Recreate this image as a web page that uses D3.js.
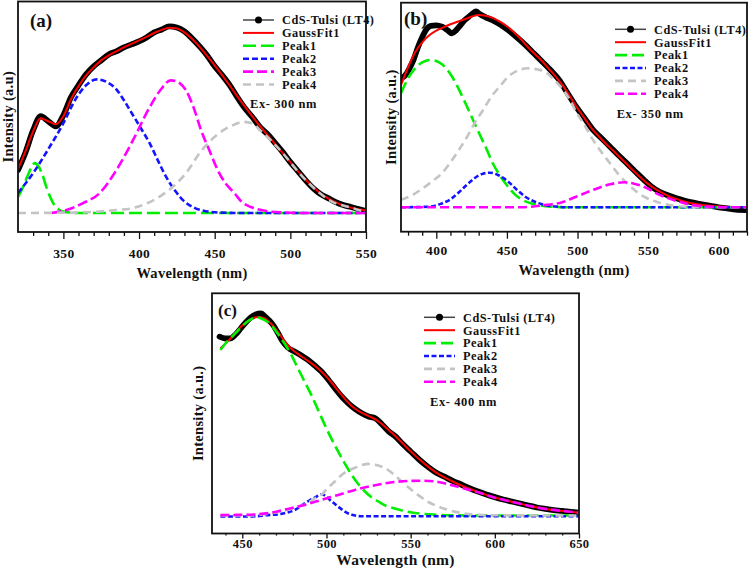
<!DOCTYPE html>
<html>
<head>
<meta charset="utf-8">
<script src="https://cdn.jsdelivr.net/npm/d3@7"></script>
<style>
body{margin:0;background:#fff;}
svg{display:block;}
text{font-family:"Liberation Serif","Times New Roman",serif;font-weight:bold;fill:#111;}
</style>
</head>
<body>
<svg id="chart" width="750" height="578"></svg>
<script>
// 凡例
var legendNames = ["CdS-Tulsi (LT4)", "GaussFit1", "Peak1", "Peak2", "Peak3", "Peak4"];
var yLabels = ["Intensity (a.u)", "Intensity (a.u.)", "Intensity (a.u.)"];
var exLabels = ["Ex- 300 nm", "Ex- 350 nm", "Ex- 400 nm"];
var panelNames = ["(a)", "(b)", "(c)"];
var ticksA = [350, 400, 450, 500, 550];
var ticksB = [400, 450, 500, 550, 600];
var ticksC = [450, 500, 550, 600, 650];

// (a) Ex 300 nm  [波長, 強度]
var a_data = [[320,21.5],[325,30.5],[330,41.5],[335,48.5],[340,46],[345,43.5],[350,49],[355,58],[360,64],[365,69.5],[370,73.5],[375,76.5],[380,79.5],[385,81],[390,83],[395,84.5],[400,86],[405,88],[410,90.5],[415,92],[420,93.5],[425,93],[430,91],[435,87.5],[440,83.5],[445,79],[450,73.5],[455,69],[460,64],[465,58],[470,52.5],[475,48],[480,43],[485,39.5],[490,35],[495,30.5],[500,25.5],[505,21],[510,16.5],[515,12.5],[520,9.5],[525,7.5],[530,5.5],[535,4],[540,3],[545,2],[550,1]];
var a_fit = [[320,22],[325,31],[330,41],[335,47.5],[340,46],[345,44.5],[350,48.5],[355,57],[360,63.5],[365,69],[370,73],[375,76.5],[380,79],[385,81],[390,83],[395,84.8],[400,86.5],[405,88.3],[410,90.2],[415,91.8],[420,92.8],[425,92.5],[430,90.5],[435,87.3],[440,83.3],[445,78.8],[450,74],[455,69],[460,63.8],[465,58.5],[470,53.3],[475,48.3],[480,43.5],[485,39],[490,34.5],[495,30],[500,25.5],[505,21],[510,16.8],[515,13],[520,9.8],[525,7.3],[530,5.3],[535,3.8],[540,2.7],[545,1.9],[550,1.3]];
var a_peak1 = [[320,8],[323,12.5],[326,18],[329,23],[331,25],[333,24],[336,19.5],[339,12.5],[341,8.5],[344,4],[347,1.8],[350,0.8],[355,0.2],[360,0],[450,0],[550,0]];
var a_peak2 = [[320,10],[330,20],[340,32],[350,45],[358,57],[365,64],[372,67],[379,65.5],[385,62],[390,56.5],[396,49],[402,41.5],[407,35],[413,25.5],[418,18],[424,11],[429,6.5],[437,2.5],[445,0.8],[455,0.2],[470,0],[550,0]];
var a_peak3 = [[342,0],[352,1.5],[363,5],[374,10],[385,21.5],[396,36.5],[407,53],[414,61.5],[421,66.5],[427,65],[431,61.5],[436,53],[441,41.5],[447,30.5],[452,21.5],[457,15],[463,10],[468,5.5],[474,3],[484,1],[495,0.3],[510,0],[550,0]];
var a_peak4 = [[320,0],[360,0.3],[374,0.8],[385,1.5],[396,2.5],[407,5.5],[418,10.5],[425,15],[431,20],[441,31],[452,39.5],[462,44],[469,45.7],[475,45],[480,41.5],[487,36.5],[495,30],[506,20],[517,11.5],[528,5.5],[539,3],[548,1],[550,0.8]];

// (b) Ex 350 nm
var b_data = [[375,64.5],[378,66],[381,69.5],[384,74],[387,80],[390,85],[393,89],[396,90.7],[400,91],[404,90.3],[408,88.5],[411,87],[414,88.5],[417,91],[420,93.5],[423,95.3],[426,97],[428,98],[431,96.5],[435,95],[440,93.5],[445,91.5],[451,88.5],[457,85],[463,81.2],[469,77],[475,72.8],[481,68.5],[487,63.7],[493,57],[499,50.3],[505,44.5],[511,38.7],[517,34.5],[523,30.3],[529,26],[535,22],[541,17.8],[547,13.7],[552,10.5],[558,7.8],[564,6],[570,4.5],[576,3.3],[582,2.3],[588,1.5],[594,0.7],[600,0],[606,-0.5],[612,-1.2],[620,-1.4]];
var b_fit = [[375,61],[380,70],[385,77.5],[390,82.5],[395,86],[400,88.3],[405,90],[410,91.5],[415,92.8],[420,94],[425,95.3],[430,96.2],[435,95.8],[440,94.7],[445,92.8],[450,90.5],[455,87.5],[460,84],[465,80],[470,76.5],[475,73],[480,69],[485,65],[490,60.5],[495,55],[500,49.5],[505,44.5],[510,39.5],[515,35.5],[520,31.8],[525,28.5],[530,25],[535,21.5],[540,18],[545,14.7],[550,11.7],[555,9.2],[560,7.2],[565,5.5],[570,4.2],[575,3.1],[580,2.2],[590,1],[600,0.4],[610,0.1],[620,0]];
var b_peak1 = [[375,57],[380,64.5],[385,69.5],[390,72.5],[396,73.7],[402,72.5],[406,70.3],[411,65.5],[416,59],[420,53],[425,45.3],[430,37.5],[435,30],[440,22],[444,17],[450,11],[456,6.2],[462,3.3],[468,1.8],[475,0.8],[480,0.4],[490,0],[620,0]];
var b_peak2 = [[375,0],[395,0.3],[403,1.7],[410,4],[416,7.5],[422,11.5],[427,14.5],[433,16.8],[438,17.3],[444,16],[451,12.8],[457,8.8],[463,5.3],[469,3],[475,1.5],[486,0.3],[495,0],[620,0]];
var b_peak3 = [[375,3.7],[384,6.5],[392,10.3],[398,13.5],[404,17],[410,22.5],[416,28.7],[422,35.5],[427,42],[433,48.5],[439,55.3],[445,60.5],[451,65.3],[458,68.5],[465,69.5],[471,69],[477,67.8],[483,64],[488,60.3],[494,54.5],[499,47.8],[505,41],[511,33.7],[517,27.5],[523,22],[529,16.5],[535,12],[541,8.3],[547,5.3],[553,3.5],[558,2.3],[564,1.3],[570,0.6],[580,0.2],[600,0],[620,0]];
var b_peak4 = [[375,0],[460,0],[470,0.5],[478,1.2],[488,2.3],[499,5.3],[511,8.7],[523,11.5],[533,12.5],[540,11.8],[547,10.3],[558,6.2],[570,3.2],[582,1],[594,0.3],[605,0],[620,0]];

// (c) Ex 400 nm
var c_data = [[436.5,89.4],[440,88.5],[443,88.6],[446,90.5],[449,93.5],[452,96.5],[455,99],[458,100.5],[461,101],[464,99],[467.5,96.1],[471,91.5],[474,87],[477,84],[481,82],[485,80],[489,77.8],[493,75],[497,72],[501,68],[505,63.6],[509,59.5],[513,56.1],[517,53.3],[521,51.1],[525,49.5],[529,48.6],[533,45.5],[537,42],[541,39.5],[545,36],[550,32],[555,28],[560,24.5],[565,21.5],[570,19.4],[575,17.3],[580,15.5],[585,13.6],[590,12],[595,10.5],[600,9.2],[605,8],[610,7],[615,6],[620,5],[625,4],[630,3.3],[635,2.7],[640,2.3],[645,1.8],[650,1.4]];
var c_fit = [[437,83.5],[443,88.5],[450,95],[455,98],[459,99.3],[463,98.7],[467,96],[471,92],[475,87.3],[479,83.5],[483,80.8],[487,78.5],[491,76.2],[495,73.5],[499,70.3],[503,66.5],[507,62.3],[511,58.2],[515,54.8],[519,52.3],[523,50.5],[527,49],[531,47],[535,44.3],[539,41.2],[543,38],[547,34.6],[551,31.3],[555,28.2],[560,24.7],[565,21.6],[570,19.1],[575,17],[580,15.1],[585,13.4],[590,11.8],[595,10.3],[600,9],[610,6.9],[620,4.9],[630,3.3],[640,2.3],[650,1.4]];
var c_peak1 = [[437,82.7],[441,87],[444,89.5],[448,93],[452,96.3],[456,98.5],[459,99],[463,97.8],[467,95.3],[471,91],[475,86.1],[479,80.5],[483,73.6],[487,67],[491,60.3],[495,52.8],[499,45.3],[503,38.3],[507,31.9],[511,25.8],[515,20.3],[519,15.6],[523,11.9],[527,9],[531,6.9],[535,5],[539,3.9],[545,2.5],[555,1],[565,0.4],[575,0.1],[590,0],[650,0]];
var c_peak2 = [[437,-0.5],[455,-0.5],[465,0.2],[473,0.8],[478,1.8],[481,2.7],[484,4.3],[487,6.1],[490,7.6],[493,8.9],[497,10.6],[500,9.5],[502,7.8],[505,5.8],[507,4.4],[510,2.5],[513,1],[517,0],[521,-0.4],[650,-0.4]];
var c_peak3 = [[437,0],[455,0],[462,0.5],[470,1.5],[480,3.5],[487,5.5],[493,8.5],[498,11.1],[501,14],[505,17],[509,20.3],[513,22.5],[517,23.9],[521,25.2],[525,25.8],[529,25.4],[533,24.4],[537,22.5],[540,20.5],[545,16.8],[551,12.5],[556,9.3],[561,6.5],[566,4.6],[571,3.1],[580,1.3],[590,0.4],[600,0.1],[650,0]];
var c_peak4 = [[437,0.2],[447,0.3],[457,0.5],[467,1.4],[477,3.3],[487,5.3],[497,7.8],[507,10.3],[517,12.8],[527,14.8],[539,16.6],[550,17.3],[558,17.4],[565,17],[570,16.1],[580,13.9],[590,11.6],[600,8.9],[610,6.9],[620,4.9],[630,3.3],[640,2.3],[650,1.4]];

var GREEN = "#00ee00", BLUE = "#1414ff", MAGENTA = "#ff00ff", GRAY = "#c4c4c4", RED = "#ff0000";

var svg = d3.select("#chart");

var panels = [
	{
		id: "a", left: 18, right: 366, top: 1.5, bottom: 232,
		xDom: [320, 550], yDom: [-9.5, 106],
		ticks: ticksA, tickSize: 7, tickPad: 9, fontTick: 13.5,
		titleY: 273, titleSize: 14.5,
		yLabel: yLabels[0], yLabelX: 8,
		name: panelNames[0], nameX: 30, nameY: 20, nameSize: 19,
		ex: exLabels[0], exX: 250, exY: 104,
		legX: 243, legY: 20, legStep: 12.9,
		series: [a_data, a_fit, a_peak1, a_peak2, a_peak3, a_peak4],
		peakStyle: [[GREEN, "13,5"], [BLUE, "6,3"], [MAGENTA, "10,4"], [GRAY, "8,5"]]
	},
	{
		id: "b", left: 401, right: 747, top: 2.7, bottom: 231.7,
		xDom: [375, 620], yDom: [-12.2, 102.3],
		ticks: ticksB, tickSize: 7, tickPad: 6.4, fontTick: 13.5,
		titleY: 270, titleSize: 14.5,
		yLabel: yLabels[1], yLabelX: 391,
		name: panelNames[1], nameX: 404, nameY: 18.5, nameSize: 19,
		ex: exLabels[1], exX: 616.7, exY: 113.3,
		legX: 615, legY: 29.3, legStep: 12.9,
		series: [b_data, b_fit, b_peak1, b_peak2, b_peak3, b_peak4],
		peakStyle: [[GREEN, "12,5"], [BLUE, "5,2.5"], [GRAY, "8,5"], [MAGENTA, "9,4"]]
	},
	{
		id: "c", left: 212, right: 579, top: 293.3, bottom: 533.5,
		xDom: [432, 650], yDom: [-9, 111.1],
		ticks: ticksC, tickSize: 5, tickPad: 1, fontTick: 12.5,
		titleY: 560, titleSize: 15.5,
		yLabel: yLabels[2], yLabelX: 198,
		name: panelNames[2], nameX: 218, nameY: 310.5, nameSize: 17,
		ex: exLabels[2], exX: 430, exY: 401.7,
		legX: 424, legY: 317.3, legStep: 12.9,
		series: [c_data, c_fit, c_peak1, c_peak2, c_peak3, c_peak4],
		peakStyle: [[GREEN, "12,5"], [BLUE, "5,2.5"], [GRAY, "8,5"], [MAGENTA, "9,4"]]
	}
];

panels.forEach(drawPanel);

function drawPanel(p) {

	var g = svg.append("g").attr("class", "panel-" + p.id);

	var x = d3.scaleLinear().domain(p.xDom).range([p.left, p.right]);
	var y = d3.scaleLinear().domain(p.yDom).range([p.bottom, p.top]);

	g.append("clipPath").attr("id", "clip-" + p.id)
		.append("rect")
		.attr("x", p.left).attr("y", p.top)
		.attr("width", p.right - p.left).attr("height", p.bottom - p.top);

	var line = d3.line()
		.x(function(d){ return x(d[0]); })
		.y(function(d){ return y(d[1]); })
		.curve(d3.curveMonotoneX);

	var plot = g.append("g").attr("clip-path", "url(#clip-" + p.id + ")");

	//測定データ（太い黒線）
	plot.append("path")
		.datum(p.series[0])
		.attr("d", line)
		.attr("fill", "none")
		.attr("stroke", "#000")
		.attr("stroke-width", 5.8)
		.attr("stroke-linejoin", "round")
		.attr("stroke-linecap", "round");

	//フィット
	plot.append("path")
		.datum(p.series[1])
		.attr("d", line)
		.attr("fill", "none")
		.attr("stroke", RED)
		.attr("stroke-width", 2);

	//ピーク
	p.peakStyle.forEach(function(st, i){
		plot.append("path")
			.datum(p.series[i + 2])
			.attr("d", line)
			.attr("fill", "none")
			.attr("stroke", st[0])
			.attr("stroke-width", 2.6)
			.attr("stroke-dasharray", st[1]);
	});

	//枠
	g.append("rect")
		.attr("x", p.left).attr("y", p.top)
		.attr("width", p.right - p.left).attr("height", p.bottom - p.top)
		.attr("fill", "none")
		.attr("stroke", "#111")
		.attr("stroke-width", 1.8);

	//目盛り
	var minor = d3.range(Math.ceil(p.xDom[0] / 10) * 10, p.xDom[1] + 1, 10)
		.filter(function(v){ return p.ticks.indexOf(v) < 0 && v > p.xDom[0]; });

	var minorAxis = g.append("g")
		.attr("transform", "translate(0," + p.bottom + ")")
		.call(d3.axisBottom(x).tickValues(minor).tickSize(p.tickSize - 3).tickFormat(""));
	minorAxis.select(".domain").remove();

	var axis = g.append("g")
		.attr("transform", "translate(0," + p.bottom + ")")
		.call(d3.axisBottom(x).tickValues(p.ticks).tickSize(p.tickSize).tickPadding(p.tickPad).tickFormat(d3.format("d")));
	axis.select(".domain").remove();
	axis.selectAll("text")
		.attr("font-family", "Liberation Serif")
		.attr("font-weight", "bold")
		.attr("font-size", p.fontTick)
		.attr("letter-spacing", 0.4)
		.attr("fill", "#111");
	g.selectAll(".tick line").attr("stroke", "#111").attr("stroke-width", 1.3);

	//軸ラベル
	g.append("text")
		.attr("x", (p.left + p.right) / 2)
		.attr("y", p.titleY)
		.attr("dy", "0.35em")
		.attr("text-anchor", "middle")
		.attr("font-size", p.titleSize)
		.attr("letter-spacing", 0.3)
		.text("Wavelength (nm)");

	g.append("text")
		.attr("transform", "translate(" + p.yLabelX + "," + ((p.top + p.bottom) / 2) + ") rotate(-90)")
		.attr("dy", "0.35em")
		.attr("text-anchor", "middle")
		.attr("font-size", 14.5)
		.attr("letter-spacing", 0.3)
		.text(p.yLabel);

	//パネル名
	g.append("text")
		.attr("x", p.nameX)
		.attr("y", p.nameY)
		.attr("dy", "0.35em")
		.attr("font-size", p.nameSize)
		.text(p.name);

	//励起波長
	g.append("text")
		.attr("x", p.exX)
		.attr("y", p.exY)
		.attr("dy", "0.35em")
		.attr("font-size", 12.5)
		.attr("letter-spacing", 0.6)
		.text(p.ex);

	//凡例
	var leg = g.append("g");
	var lw = 31;
	legendNames.forEach(function(name, i){
		var ly = p.legY + i * p.legStep;
		var item = leg.append("g");
		if(i == 0){
			item.append("line")
				.attr("x1", p.legX).attr("x2", p.legX + lw)
				.attr("y1", ly).attr("y2", ly)
				.attr("stroke", "#444").attr("stroke-width", 1.5);
			item.append("circle")
				.attr("cx", p.legX + lw / 2).attr("cy", ly)
				.attr("r", 3.5).attr("fill", "#000");
		}else if(i == 1){
			item.append("line")
				.attr("x1", p.legX).attr("x2", p.legX + lw)
				.attr("y1", ly).attr("y2", ly)
				.attr("stroke", RED).attr("stroke-width", 2);
		}else{
			var st = p.peakStyle[i - 2];
			item.append("line")
				.attr("x1", p.legX).attr("x2", p.legX + lw)
				.attr("y1", ly).attr("y2", ly)
				.attr("stroke", st[0]).attr("stroke-width", 2.6)
				.attr("stroke-dasharray", st[1]);
		}
		item.append("text")
			.attr("x", p.legX + lw + 8)
			.attr("y", ly)
			.attr("dy", "0.35em")
			.attr("font-size", 12.3)
			.attr("letter-spacing", 0.5)
			.text(name);
	});
}
</script>
</body>
</html>
